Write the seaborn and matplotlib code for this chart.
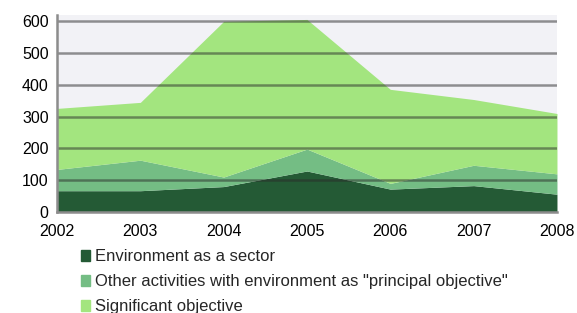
import matplotlib
import matplotlib.pyplot as plt
import matplotlib.patches as mpatches
import numpy as np
import pandas as pd
import seaborn as sns

matplotlib.use("Agg")

# Data (values per series, not cumulative)
years = [2002, 2003, 2004, 2005, 2006, 2007, 2008]
env_sector = [67, 67, 80, 129, 72, 83, 56]
principal_objective = [67, 96, 30, 69, 18, 64, 64]
significant_objective = [192, 182, 490, 408, 296, 207, 190]
series_names = [
    "Environment as a sector",
    'Other activities with environment as "principal objective"',
    "Significant objective",
]
colors = ["#245a35", "#74bd84", "#a3e57f"]

df = pd.DataFrame(
    {
        "year": years,
        series_names[0]: env_sector,
        series_names[1]: principal_objective,
        series_names[2]: significant_objective,
    }
)

sns.set_style("white")
plt.rcParams["font.family"] = ["Liberation Sans", "DejaVu Sans"]

fig = plt.figure(figsize=(5.77, 3.13), dpi=100)
ax = fig.add_axes([0.0988, 0.3227, 0.8665, 0.6294])
ax.set_facecolor("#f2f2f6")

ax.stackplot(
    df["year"],
    [df[n] for n in series_names],
    colors=colors,
    linewidth=0,
    zorder=1,
)

ax.set_xlim(2002, 2008)
ax.set_ylim(0, 620)
ax.set_yticks(np.arange(0, 601, 100))
ax.set_xticks(years)

# gridlines on top of the areas
for yv in range(100, 601, 100):
    ax.axhline(yv, color="#2a2a2a", alpha=0.5, linewidth=1.8, zorder=3)

sns.despine(ax=ax, top=True, right=True)
for side in ["left", "bottom"]:
    ax.spines[side].set_color("#8c8c8c")
    ax.spines[side].set_linewidth(1.8)
    ax.spines[side].set_zorder(4)

ax.tick_params(axis="both", direction="out", length=4, width=1.2,
               color="#8c8c8c", labelsize=11.5, labelcolor="black", pad=2)
ax.tick_params(axis="x", pad=5)

handles = [mpatches.Patch(color=c, label=n) for c, n in zip(colors, series_names)]
fig.legend(
    handles=handles,
    loc="upper left",
    bbox_to_anchor=(0.128, 0.225),
    frameon=False,
    fontsize=12,
    handlelength=0.55,
    handleheight=0.6,
    handletextpad=0.3,
    labelspacing=0.6,
    borderaxespad=0,
)

plt.savefig("out.png", dpi=100)
plt.close()
